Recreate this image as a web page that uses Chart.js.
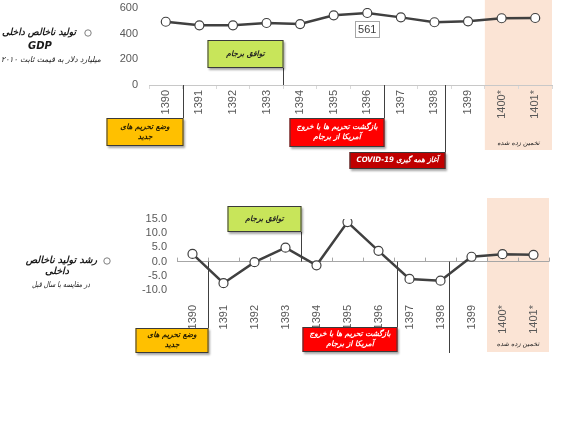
<!DOCTYPE html>
<html>
<head>
<meta charset="utf-8">
<script src="https://cdn.jsdelivr.net/npm/chart.js@4.4.1/dist/chart.umd.min.js"></script>
<style>
  body { margin: 0; background: #fff; width: 587px; height: 429px; position: relative; overflow: hidden; }
  canvas { position: absolute; left: 0; }
  #gdpChart { top: 0; }
  #growthChart { top: 190px; }
</style>
</head>
<body>
<canvas id="gdpChart" width="587" height="180"></canvas>
<canvas id="growthChart" width="587" height="180"></canvas>
<script>
// years (solar hijri), last two are estimates
const years = ['1390', '1391', '1392', '1393', '1394', '1395', '1396', '1397', '1398', '1399', '1400*', '1401*']
// GDP, billion dollars at constant 2010 prices
const gdpValues = [493, 465, 465, 483, 475, 543, 561, 527, 489, 496, 520, 522]
// GDP growth vs previous year, percent
const growthValues = [2.7, -7.6, -0.2, 4.9, -1.3, 13.9, 3.8, -6.1, -6.7, 1.7, 2.6, 2.4]
const gdpTicks = [0, 200, 400, 600]
const growthTicks = [-10, -5, 0, 5, 10, 15]

const FA = "'DejaVu Sans', sans-serif"
const LINE = '#404040'
const LABEL = '#595959'

// pixel between categories, e.g. 3.5 = border of 1393 and 1394
function catX (scale, v) {
  const i = Math.floor(v)
  const a = scale.getPixelForValue(i)
  const b = scale.getPixelForValue(i + 1)
  return a + (b - a) * (v - i)
}

function drawBox (ctx, x, y, w, h, fill, lines, color) {
  ctx.save()
  ctx.shadowColor = 'rgba(0,0,0,0.35)'
  ctx.shadowOffsetX = 1.5
  ctx.shadowOffsetY = 1.5
  ctx.shadowBlur = 2
  ctx.fillStyle = fill
  ctx.fillRect(x, y, w, h)
  ctx.restore()
  ctx.save()
  ctx.strokeStyle = '#3a3a3a'
  ctx.lineWidth = 1
  ctx.strokeRect(x + 0.5, y + 0.5, w - 1, h - 1)
  ctx.fillStyle = color
  ctx.font = 'italic bold 7.5px ' + FA
  ctx.textAlign = 'center'
  ctx.textBaseline = 'middle'
  ctx.direction = 'rtl'
  const lh = 10
  const top = y + h / 2 - (lines.length - 1) * lh / 2
  lines.forEach((t, k) => ctx.fillText(t, x + w / 2, top + k * lh, w - 14))
  ctx.restore()
}

function drawLegend (ctx, spec) {
  ctx.save()
  ctx.beginPath()
  ctx.arc(spec.cx, spec.cy, 3.2, 0, Math.PI * 2)
  ctx.strokeStyle = '#7f7f7f'
  ctx.lineWidth = 1
  ctx.fillStyle = '#fff'
  ctx.fill()
  ctx.stroke()
  ctx.fillStyle = '#1a1a1a'
  ctx.textBaseline = 'middle'
  ctx.direction = 'rtl'
  spec.lines.forEach(l => {
    ctx.font = l.font + ' ' + FA
    ctx.textAlign = l.align
    ctx.fillText(l.text, l.x, l.y, l.max)
  })
  ctx.restore()
}

function annotations (cfg) {
  return {
    id: 'annotations',
    beforeDraw (chart) {
      const ctx = chart.ctx
      const x = chart.scales.x
      const x1 = catX(x, 9.5)
      const x2 = catX(x, 11.5)
      ctx.save()
      ctx.fillStyle = '#FBE4D5'
      ctx.fillRect(x1, cfg.band[0], x2 - x1, cfg.band[1] - cfg.band[0])
      ctx.fillStyle = '#222'
      ctx.font = 'italic 6.5px ' + FA
      ctx.textAlign = 'center'
      ctx.textBaseline = 'middle'
      ctx.direction = 'rtl'
      ctx.fillText('تخمین زده شده', (x1 + x2) / 2, cfg.bandLabelY)
      ctx.restore()
    },
    afterDatasetsDraw (chart) {
      if (cfg.afterData) cfg.afterData(chart)
    },
    afterDraw (chart) {
      const ctx = chart.ctx
      const x = chart.scales.x
      const axisY = cfg.axisY(chart)
      if (cfg.zeroTicks) {
        ctx.save()
        ctx.strokeStyle = '#a6a6a6'
        ctx.lineWidth = 1
        for (let i = -0.5; i <= 11.5; i++) {
          const px = Math.round(catX(x, i)) + 0.5
          ctx.beginPath()
          ctx.moveTo(px, axisY - 4)
          ctx.lineTo(px, axisY)
          ctx.stroke()
        }
        ctx.restore()
      }
      cfg.notes.forEach(n => {
        const px = Math.round(catX(x, n.at)) + 0.5
        const y1 = n.up ? n.y + n.h : axisY
        const y2 = n.up ? axisY : n.y
        ctx.save()
        ctx.strokeStyle = LINE
        ctx.lineWidth = 1
        ctx.beginPath()
        ctx.moveTo(px, y1)
        ctx.lineTo(px, y2)
        ctx.stroke()
        ctx.restore()
        if (n.w) drawBox(ctx, px - n.w, n.y, n.w, n.h, n.fill, n.lines, n.color)
      })
      drawLegend(ctx, cfg.legend)
    }
  }
}

const lineStyle = {
  borderColor: LINE,
  borderWidth: 2.5,
  pointRadius: 4.5,
  pointBackgroundColor: '#fff',
  pointBorderColor: LINE,
  pointBorderWidth: 1.2,
  tension: 0
}

const xTicks = {
  minRotation: 90,
  maxRotation: 90,
  autoSkip: false,
  color: LABEL,
  font: { family: "'Liberation Sans', sans-serif", size: 11 }
}

// fixed axis sizes so the plot area lands where the original has it
const fixX = h => s => { s.height = h; s.paddingLeft = 0; s.paddingRight = 0 }
const fixY = w => s => { s.width = w; s.paddingTop = 0; s.paddingBottom = 0 }

// top chart: GDP
new Chart(document.getElementById('gdpChart'), {
  type: 'line',
  data: { labels: years, datasets: [Object.assign({ data: gdpValues }, lineStyle)] },
  options: {
    responsive: false,
    animation: false,
    layout: { padding: { top: 8, right: 35, left: 0, bottom: 0 } },
    plugins: { legend: { display: false }, tooltip: { enabled: false } },
    scales: {
      x: {
        offset: true,
        grid: { display: true, drawOnChartArea: false, offset: true, tickLength: 4, color: '#d9d9d9' },
        border: { display: true, color: '#c8c8c8' },
        ticks: Object.assign({ padding: 1 }, xTicks),
        afterFit: fixX(95)
      },
      y: {
        min: gdpTicks[0],
        max: gdpTicks[gdpTicks.length - 1],
        afterBuildTicks: s => { s.ticks = gdpTicks.map(v => ({ value: v })) },
        grid: { display: false, drawTicks: false },
        border: { display: false },
        ticks: { autoSkip: false, color: LABEL, padding: 11, font: { family: "'Liberation Sans', sans-serif", size: 11 } },
        afterFit: fixY(149)
      }
    }
  },
  plugins: [annotations({
    band: [0, 150],
    bandLabelY: 143,
    axisY: c => c.chartArea.bottom,
    notes: [
      { at: 3.5, up: true, y: 40, w: 76, h: 28, fill: '#C8E55A', color: '#222', lines: ['توافق برجام'] },
      { at: 0.5, y: 118, w: 77, h: 28, fill: '#FFC000', color: '#2a2000', lines: ['وضع تحریم های', 'جدید'] },
      { at: 6.5, y: 118, w: 95, h: 29, fill: '#FF0000', color: '#fff', lines: ['بازگشت تحریم ها با خروج', 'آمریکا از برجام'] },
      { at: 8.3, y: 152, w: 96, h: 17, fill: '#C00000', color: '#fff', lines: ['آغاز همه گیری COVID-19'] }
    ],
    afterData: chart => {
      const i = 6
      const pt = chart.getDatasetMeta(0).data[i]
      const ctx = chart.ctx
      const w = 24
      const h = 16
      const bx = Math.round(pt.x - w / 2) + 0.5
      const by = Math.round(pt.y + 8) + 0.5
      ctx.save()
      ctx.fillStyle = '#fff'
      ctx.fillRect(bx, by, w, h)
      ctx.strokeStyle = '#a6a6a6'
      ctx.strokeRect(bx, by, w, h)
      ctx.fillStyle = '#404040'
      ctx.font = "11px 'Liberation Sans', sans-serif"
      ctx.textAlign = 'center'
      ctx.textBaseline = 'middle'
      ctx.fillText(String(gdpValues[i]), pt.x, by + h / 2 + 0.5)
      ctx.restore()
    },
    legend: {
      cx: 88,
      cy: 33,
      lines: [
        { text: 'تولید ناخالص داخلی', x: 76, y: 33, align: 'right', font: 'italic bold 9.5px', max: 74 },
        { text: 'GDP', x: 40, y: 46, align: 'center', font: 'italic bold 10px', max: 40 },
        { text: 'میلیارد دلار به قیمت ثابت ۲۰۱۰', x: 101, y: 60, align: 'right', font: 'italic 8px', max: 100 }
      ]
    }
  })]
})

// bottom chart: GDP growth
new Chart(document.getElementById('growthChart'), {
  type: 'line',
  data: { labels: years, datasets: [Object.assign({ data: growthValues }, lineStyle)] },
  options: {
    responsive: false,
    animation: false,
    layout: { padding: { top: 29, right: 38, left: 0, bottom: 0 } },
    plugins: { legend: { display: false }, tooltip: { enabled: false } },
    scales: {
      x: {
        offset: true,
        grid: { display: false },
        border: { display: false },
        ticks: Object.assign({ padding: 7 }, xTicks),
        afterFit: fixX(80)
      },
      y: {
        min: growthTicks[0],
        max: growthTicks[growthTicks.length - 1],
        afterBuildTicks: s => { s.ticks = growthTicks.map(v => ({ value: v })) },
        grid: {
          drawTicks: false,
          color: c => (c.tick && c.tick.value === 0 ? '#a6a6a6' : 'rgba(0,0,0,0)')
        },
        border: { display: false },
        ticks: {
          autoSkip: false,
          color: LABEL,
          padding: 10,
          font: { family: "'Liberation Sans', sans-serif", size: 11 },
          callback: v => Number(v).toFixed(1)
        },
        afterFit: fixY(177)
      }
    }
  },
  plugins: [annotations({
    band: [8, 162],
    bandLabelY: 154,
    zeroTicks: true,
    axisY: c => c.scales.y.getPixelForValue(0),
    notes: [
      { at: 3.5, up: true, y: 16, w: 74, h: 26, fill: '#C8E55A', color: '#222', lines: ['توافق برجام'] },
      { at: 0.5, y: 138, w: 73, h: 25, fill: '#FFC000', color: '#2a2000', lines: ['وضع تحریم های', 'جدید'] },
      { at: 6.6, y: 137, w: 95, h: 25, fill: '#FF0000', color: '#fff', lines: ['بازگشت تحریم ها با خروج', 'آمریکا از برجام'] },
      { at: 8.27, y: 163 }
    ],
    legend: {
      cx: 107,
      cy: 71,
      lines: [
        { text: 'رشد تولید ناخالص', x: 97, y: 71, align: 'right', font: 'italic bold 9.5px', max: 72 },
        { text: 'داخلی', x: 57, y: 82, align: 'center', font: 'italic bold 9.5px', max: 24 },
        { text: 'در مقایسه با سال قبل', x: 90, y: 95, align: 'right', font: 'italic 8px', max: 58 }
      ]
    }
  })]
})
</script>
</body>
</html>
